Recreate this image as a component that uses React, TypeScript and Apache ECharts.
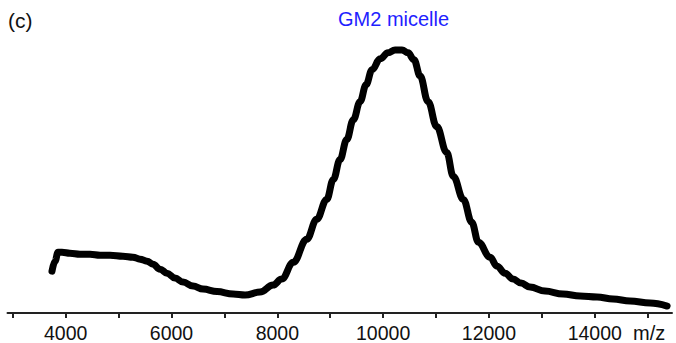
import React, { useEffect, useRef } from "react";
import * as echarts from "echarts";

// m/z values (Da)
const mz = [
  3741, 3798, 3855, 3930, 4081, 4271, 4460, 4649, 4838, 5083, 5272, 5405, 5537, 5650, 5783, 5915,
  6066, 6218, 6407, 6596, 6860, 7163, 7390, 7673, 7919, 8083, 8303, 8556, 8745, 8934, 9059, 9185,
  9312, 9437, 9564, 9677, 9790, 9942, 10093, 10225, 10357, 10471, 10584, 10698, 10849, 11013,
  11202, 11327, 11516, 11675, 11800, 12021, 12153, 12304, 12455, 12607, 12777,
  13060, 13400, 13722, 14043, 14346, 14667, 15045, 15367,
];
// relative intensity (arbitrary units)
const intensity = [
  42, 52, 61, 61, 60, 59, 59, 58, 58, 57, 56, 54, 52, 49, 44, 40,
  35, 31, 27, 24, 21.5, 19, 18, 21, 28, 34, 51, 74, 94, 114, 134, 154,
  174, 194, 212, 229, 244, 255, 261, 264, 264, 261, 254, 238, 212, 187,
  161, 137, 114, 91, 71, 56, 47, 40, 34, 30, 26,
  22, 19, 17, 16, 14, 12, 10, 7,
];
const tickValues = [3000, 4000, 5000, 6000, 7000, 8000, 9000, 10000, 11000, 12000, 13000, 14000, 15000];
const labelValues = [4000, 6000, 8000, 10000, 12000, 14000];
const peakLabel = "GM2 micelle";
const panelLabel = "(c)";
const axisName = "m/z";

const FONT = "'Liberation Sans', Arial, Helvetica, sans-serif";

export default function App() {
  const ref = useRef<HTMLDivElement>(null);
  useEffect(() => {
    if (!ref.current) return;
    const chart = echarts.init(ref.current, undefined, { renderer: "svg" });
    chart.setOption({
      animation: false,
      backgroundColor: "#ffffff",
      grid: { left: 7.5, right: 4, top: 14, bottom: 29, containLabel: false },
      xAxis: {
        type: "value",
        min: 2900,
        max: 15460,
        axisLine: { show: true, onZero: false, lineStyle: { color: "#222", width: 2 } },
        axisTick: {
          show: true,
          customValues: tickValues,
          length: 5,
          lineStyle: { color: "#222", width: 2 },
        },
        axisLabel: {
          customValues: labelValues,
          formatter: (v: number) => String(v),
          fontSize: 19.5,
          color: "#111",
          fontFamily: FONT,
          margin: 10,
        },
        splitLine: { show: false },
      },
      yAxis: {
        type: "value",
        min: 0,
        max: 300,
        show: false,
      },
      series: [
        {
          type: "line",
          data: mz.map((x, i) => [x, intensity[i]]),
          showSymbol: false,
          smooth: 0.4,
          smoothMonotone: "x",
          lineStyle: { color: "#000", width: 7, join: "round", cap: "round" },
        },
      ],
      graphic: [
        {
          type: "text",
          left: 8,
          top: 10,
          style: { text: panelLabel, fontSize: 21, fill: "#111", fontFamily: FONT },
        },
        {
          type: "text",
          left: 338,
          top: 9,
          style: { text: peakLabel, fontSize: 20, fill: "#1f1fff", fontFamily: FONT },
        },
        {
          type: "text",
          left: 633,
          top: 323,
          style: { text: axisName, fontSize: 20, fill: "#111", fontFamily: FONT },
        },
      ],
    });
    return () => chart.dispose();
  }, []);
  return (
    <div
      ref={ref}
      style={{ position: "absolute", left: 0, top: 0, width: 676, height: 343, background: "#fff" }}
    />
  );
}
